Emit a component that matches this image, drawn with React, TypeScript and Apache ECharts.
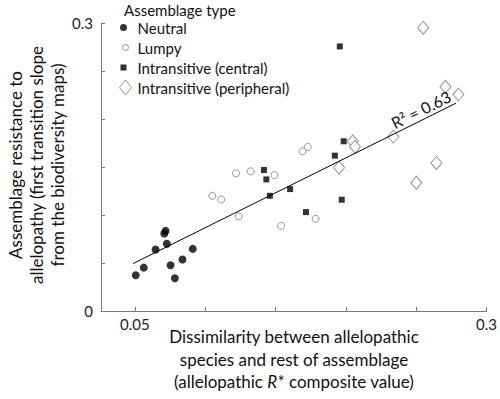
import React, { useEffect, useRef } from "react";
import * as echarts from "echarts";

const neutral: number[][] = [
  [0.0507, 0.0372], [0.0564, 0.0452], [0.0648, 0.064], [0.071, 0.0807], [0.0719, 0.0835],
  [0.0728, 0.07], [0.0754, 0.0477], [0.0785, 0.0341], [0.0839, 0.0536], [0.0912, 0.0647],
];
const lumpy: number[][] = [
  [0.1051, 0.12], [0.1114, 0.1162], [0.122, 0.1434], [0.1239, 0.0985], [0.1324, 0.1455],
  [0.1493, 0.1416], [0.154, 0.0887], [0.1693, 0.1663], [0.1729, 0.1709], [0.1785, 0.096],
];
const central: number[][] = [
  [0.1418, 0.1469], [0.1435, 0.1371], [0.146, 0.12], [0.1604, 0.127], [0.1717, 0.103],
  [0.1922, 0.1618], [0.1957, 0.2756], [0.1971, 0.1159], [0.1985, 0.1768],
];
const peripheral: number[][] = [
  [0.1952, 0.1493], [0.2049, 0.1768], [0.2065, 0.1712], [0.2338, 0.1817], [0.2501, 0.1336],
  [0.255, 0.2951], [0.2644, 0.1542], [0.2708, 0.2335], [0.28, 0.2255],
];
const trendStart = [0.0488, 0.0494];
const trendEnd = [0.2783, 0.2165];
const seriesNames = ["Neutral", "Lumpy", "Intransitive (central)", "Intransitive (peripheral)"];
const xTicks = [0.05, 0.1, 0.15, 0.2, 0.25, 0.3];
const xTickLabels = [0.05, 0.3];
const yTickLabels = [0, 0.3];
const rSquaredLabel = "R² = 0.63";
const legendTitle = "Assemblage type";
const xName = ["Dissimilarity between allelopathic", "species and rest of assemblage", "(allelopathic {i|R}* composite value)"];
const yName = ["Assemblage resistance to", "allelopathy (first transition slope", "from the biodiversity maps)"];

const FONT = "Lato, 'Open Sans', sans-serif";
const GRAY = "#7a7a7a";

// legend icons (14x15 box, padded with move-to corners so each keeps its own size)
const ICON_BOX = "M0,0M14,15";
const iconDot = `path://${ICON_BOX}M8.5,7.5A3.5,3.5,0,1,1,1.5,7.5A3.5,3.5,0,1,1,8.5,7.5Z`;
const iconRing = `path://${ICON_BOX}M10,7.5A3,3,0,1,1,4,7.5A3,3,0,1,1,10,7.5Z`;
const iconSquare = `path://${ICON_BOX}M2,4.5h6v6h-6Z`;
const iconDiamond = `path://${ICON_BOX}M7,0L13,7.5L7,15L1,7.5Z`;

export default function App() {
  const ref = useRef<HTMLDivElement>(null);
  useEffect(() => {
    if (!ref.current) return;
    const chart = echarts.init(ref.current, undefined, { renderer: "svg" });
    chart.setOption({
      animation: false,
      textStyle: { fontFamily: FONT },
      grid: { left: 101, right: 11, top: 23, bottom: 88, containLabel: false },
      legend: {
        orient: "vertical", left: 118, top: 20, itemWidth: 14, itemHeight: 15, itemGap: 4.5, padding: 0,
        selectedMode: false, symbolKeepAspect: true,
        textStyle: { fontFamily: FONT, fontSize: 15, color: "#111" },
        data: [
          { name: seriesNames[0], icon: iconDot, itemStyle: { color: "#000", borderWidth: 0 } },
          { name: seriesNames[1], icon: iconRing, itemStyle: { color: "#fff", borderColor: GRAY, borderWidth: 1 } },
          { name: seriesNames[2], icon: iconSquare, itemStyle: { color: "#000", borderWidth: 0 } },
          { name: seriesNames[3], icon: iconDiamond, itemStyle: { color: "#fff", borderColor: GRAY, borderWidth: 1 } },
        ],
      },
      xAxis: {
        type: "value", min: 0.026, max: 0.3,
        axisLine: { lineStyle: { color: GRAY, width: 1 } },
        axisTick: { inside: true, length: 4, customValues: xTicks, lineStyle: { color: GRAY } },
        axisLabel: { customValues: xTickLabels, fontSize: 15, color: "#222", margin: 5, fontFamily: FONT,
          formatter: (v: number) => String(Math.round(v * 100) / 100) },
        splitLine: { show: false },
      },
      yAxis: {
        type: "value", min: 0, max: 0.3, interval: 0.05,
        axisLine: { show: true, lineStyle: { color: GRAY, width: 1 } },
        axisTick: { show: true, inside: true, length: 4, lineStyle: { color: GRAY } },
        axisLabel: { customValues: yTickLabels, fontSize: 15, color: "#222", margin: 8, fontFamily: FONT,
          formatter: (v: number) => String(Math.round(v * 100) / 100) },
        splitLine: { show: false },
      },
      series: [
        {
          name: seriesNames[0], type: "scatter", data: neutral, symbol: "circle", symbolSize: 8,
          itemStyle: { color: "#000" }, z: 3,
          markLine: {
            silent: true, symbol: ["none", "none"], animation: false,
            lineStyle: { color: "#000", width: 1, type: "solid" },
            label: { show: true, position: "insideEndTop", formatter: rSquaredLabel, fontSize: 16, color: "#111", fontFamily: FONT, distance: 2 },
            data: [[{ coord: trendStart }, { coord: trendEnd }]],
          },
        },
        {
          name: seriesNames[1], type: "scatter", data: lumpy, symbol: "circle", symbolSize: 7,
          itemStyle: { color: "#fff", borderColor: GRAY, borderWidth: 1 }, z: 3,
        },
        {
          name: seriesNames[2], type: "scatter", data: central, symbol: "rect", symbolSize: 6,
          itemStyle: { color: "#000" }, z: 3,
        },
        {
          name: seriesNames[3], type: "scatter", data: peripheral, symbol: "diamond", symbolSize: [11, 13],
          itemStyle: { color: "#fff", borderColor: GRAY, borderWidth: 1 }, z: 3,
        },
      ],
      graphic: [
        { type: "text", left: 124, top: 2, style: { text: legendTitle, font: `15px ${FONT}`, fill: "#111" } },
        {
          type: "text", x: 294, y: 325.5,
          style: {
            text: xName.join("\n"), font: `17px ${FONT}`, fill: "#111", align: "center", verticalAlign: "top", lineHeight: 22.5,
            rich: { i: { fontStyle: "italic", fontSize: 17, fontFamily: FONT, fill: "#111", lineHeight: 22.5 } },
          },
        },
        {
          type: "text", x: 36, y: 165, rotation: Math.PI / 2,
          style: { text: yName.join("\n"), font: `17px ${FONT}`, fill: "#111", align: "center", verticalAlign: "middle", lineHeight: 21 },
        },
      ],
    });
    return () => chart.dispose();
  }, []);
  return <div ref={ref} style={{ width: 500, height: 399, position: "absolute", left: 0, top: 0 }} />;
}
